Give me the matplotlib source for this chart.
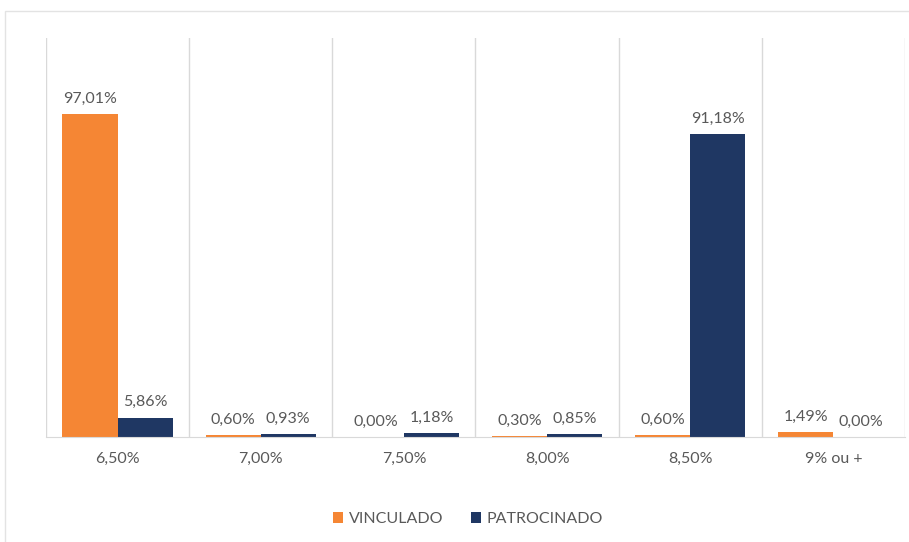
import numpy as np
import matplotlib.pyplot as plt
from matplotlib.patches import Rectangle

plt.rcParams['font.family'] = ['Lato', 'DejaVu Sans']

categories = ['6,50%', '7,00%', '7,50%', '8,00%', '8,50%', '9% ou +']
vinculado = [97.01, 0.60, 0.00, 0.30, 0.60, 1.49]
patrocinado = [5.86, 0.93, 1.18, 0.85, 91.18, 0.00]

orange = '#F58634'
navy = '#1F3763'
grey_text = '#595959'
grid_col = '#D9D9D9'

fig = plt.figure(figsize=(9.09, 5.42), dpi=100)

# outer chart frame (cut off on the right)
fig.patches.append(Rectangle((5 / 909, -0.05), 1.0, 1 - 11 / 542 + 0.05,
                             transform=fig.transFigure, fill=False,
                             edgecolor='#E3E3E3', linewidth=1.0))

ax = fig.add_axes([46 / 909, 1 - 437 / 542, (905 - 46) / 909, (437 - 38) / 542])

x = np.arange(len(categories))
w = 0.385
ax.bar(x - w / 2, vinculado, w, color=orange, label='VINCULADO')
ax.bar(x + w / 2, patrocinado, w, color=navy, label='PATROCINADO')

for i in range(len(categories)):
    for xi, v in ((x[i] - w / 2, vinculado[i]), (x[i] + w / 2, patrocinado[i])):
        ax.annotate(f'{v:.2f}%'.replace('.', ','), (xi, v), xytext=(0, 6),
                    textcoords='offset points', ha='center', va='bottom',
                    fontsize=11.5, color=grey_text)

ax.set_xlim(-0.5, len(categories) - 0.5)
ax.set_ylim(0, 120)
ax.set_yticks([])
ax.set_xticks(x)
ax.set_xticklabels(categories, fontsize=11.5, color=grey_text)
ax.tick_params(axis='x', length=0, pad=11)

for b in np.arange(-0.5, len(categories), 1.0):
    ax.axvline(b, color=grid_col, linewidth=1.0, zorder=0)

for s in ('top', 'right', 'left'):
    ax.spines[s].set_visible(False)
ax.spines['bottom'].set_color(grid_col)

ax.legend(loc='center', bbox_to_anchor=(468 / 909, 1 - 519 / 542),
          bbox_transform=fig.transFigure, ncol=2, frameon=False,
          fontsize=11.5, labelcolor=grey_text, handlelength=0.65,
          handleheight=0.65, handletextpad=0.35, columnspacing=1.7)

fig.savefig('out.png', dpi=100)
